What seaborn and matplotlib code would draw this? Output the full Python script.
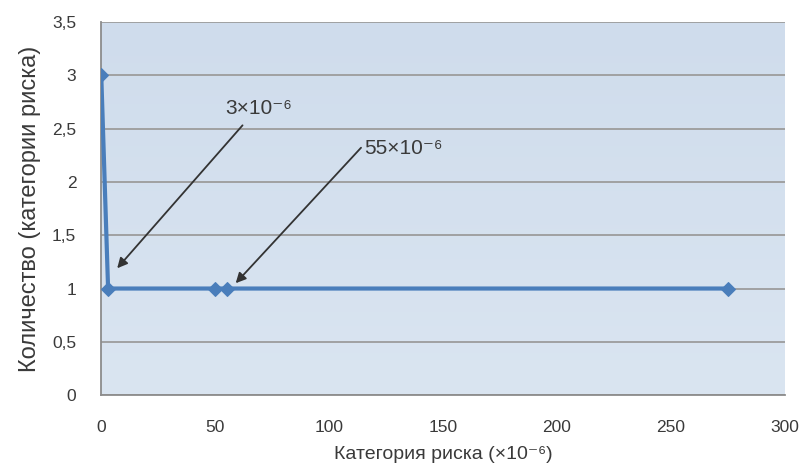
import matplotlib
matplotlib.use("Agg")
import matplotlib.pyplot as plt
import seaborn as sns
import numpy as np
import pandas as pd
from matplotlib.ticker import FuncFormatter
from matplotlib.colors import LinearSegmentedColormap

# Risk categories (×10^-6) and their counts
risk_category = [0, 3, 50, 55, 275]
count = [3, 1, 1, 1, 1]

x_ticks = [0, 50, 100, 150, 200, 250, 300]
y_ticks = [0, 0.5, 1, 1.5, 2, 2.5, 3, 3.5]

# Callout labels and the points they point at
callout_labels = ["3×10⁻⁶", "55×10⁻⁶"]
callout_targets = [(3, 1), (55, 1)]

sns.set_theme(style="white")
plt.rcParams["font.family"] = ["Liberation Sans", "DejaVu Sans"]

df = pd.DataFrame({"risk": risk_category, "count": count})

fig = plt.figure(figsize=(8.1, 4.75), dpi=100)
ax = fig.add_axes([0.125, 0.168, 0.844, 0.786])

# soft vertical gradient fill for the plot area
grad = np.linspace(0, 1, 256).reshape(-1, 1)
cmap = LinearSegmentedColormap.from_list("bg", ["#dae5f1", "#cfdcec"])
ax.imshow(grad, aspect="auto", cmap=cmap, origin="lower",
          extent=(0, 300, 0, 3.5), zorder=0)

ax.set_axisbelow(True)
ax.yaxis.grid(True, color="#9c9c9c", linewidth=1.3, zorder=1)
ax.xaxis.grid(False)

sns.lineplot(data=df, x="risk", y="count", ax=ax, color="#4a7ebb",
             linewidth=3, marker="D", markersize=7,
             markeredgecolor="#4a7ebb", sort=False, zorder=3)

ax.set_xlim(0, 300)
ax.set_ylim(0, 3.5)
ax.set_xticks(x_ticks)
ax.set_yticks(y_ticks)
ax.yaxis.set_major_formatter(FuncFormatter(lambda v, p: f"{v:g}".replace(".", ",")))

for s in ["top", "right"]:
    ax.spines[s].set_visible(False)
for s in ["left", "bottom"]:
    ax.spines[s].set_color("#8c8c8c")
    ax.spines[s].set_linewidth(1.3)

ax.tick_params(axis="both", labelsize=12.5, colors="#3a3a3a", length=5,
               color="#8c8c8c", direction="out")
ax.tick_params(axis="x", pad=13)
ax.tick_params(axis="y", length=0, pad=18)

ax.set_xlabel("Категория риска (×10⁻⁶)", fontsize=14, color="#3a3a3a",
              labelpad=8)
ax.set_ylabel("Количество (категории риска)", fontsize=17, color="#3a3a3a",
              labelpad=8)

# Callout text and arrows pointing at the two low-risk points
text_pos = [(54.5, 2.6), (115.5, 2.22)]
tail_pos = [(62, 2.53), (114, 2.32)]
head_offset = [(4, 0.19), (4, 0.05)]
for label, (xv, yv), (tx, ty), (ax0, ay0), (dx, dy) in zip(
        callout_labels, callout_targets, text_pos, tail_pos, head_offset):
    ax.text(tx, ty, label, fontsize=15, color="#3a3a3a",
            ha="left", va="bottom", zorder=5)
    ax.annotate("", xy=(xv + dx, yv + dy), xytext=(ax0, ay0),
                arrowprops=dict(arrowstyle="-|>", color="#333333", lw=1.3,
                                shrinkA=0, shrinkB=0, mutation_scale=15),
                zorder=5)

fig.savefig("out.png", dpi=100)
